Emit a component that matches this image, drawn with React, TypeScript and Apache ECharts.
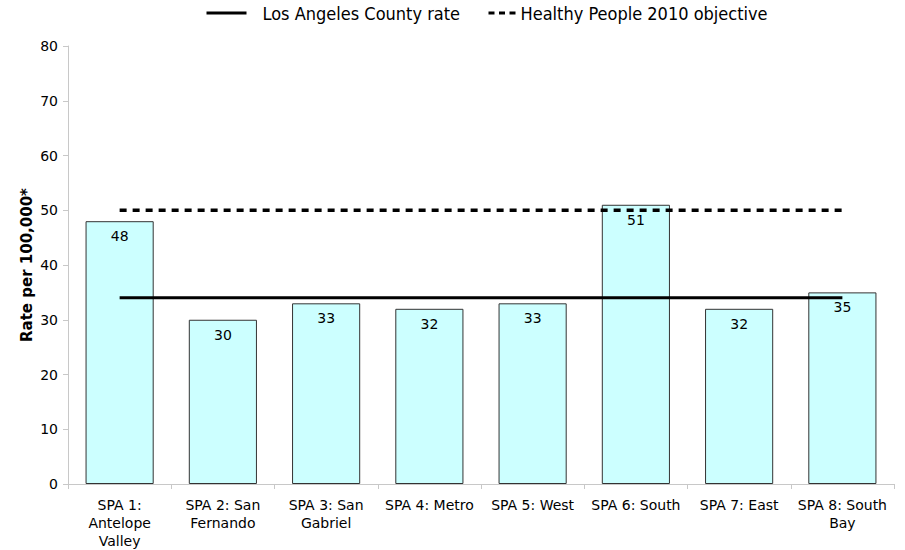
import React, { useEffect, useRef } from "react";
import * as echarts from "echarts";

const categories = [
  "SPA 1:\nAntelope\nValley",
  "SPA 2: San\nFernando",
  "SPA 3: San\nGabriel",
  "SPA 4: Metro",
  "SPA 5: West",
  "SPA 6: South",
  "SPA 7: East",
  "SPA 8: South\nBay",
];
const rates = [48, 30, 33, 32, 33, 51, 32, 35];
const countyRate = [34, 34, 34, 34, 34, 34, 34, 34];
const objective = [50, 50, 50, 50, 50, 50, 50, 50];
const yTicks = { min: 0, max: 80, interval: 10 };

const FONT = "DejaVu Sans";
const LEGEND_FONT = "DejaVu Sans Condensed, DejaVu Sans";

export default function App() {
  const ref = useRef<HTMLDivElement>(null);
  useEffect(() => {
    if (!ref.current) return;
    const chart = echarts.init(ref.current, null, { renderer: "svg" });
    chart.setOption({
      animation: false,
      textStyle: { fontFamily: FONT },
      legend: [
        {
          left: 200,
          top: -1,
          itemWidth: 40,
          itemHeight: 18,
          textStyle: { fontFamily: LEGEND_FONT, fontSize: 18, color: "#000", padding: [0, 0, 0, 11] },
          itemStyle: { opacity: 0 },
          lineStyle: { width: 3, type: "solid", color: "#000" },
          data: [{ name: "Los Angeles County rate" }],
        },
        {
          left: 482,
          top: -1,
          itemWidth: 27,
          itemHeight: 18,
          textStyle: { fontFamily: LEGEND_FONT, fontSize: 18, color: "#000" },
          itemStyle: { opacity: 0 },
          lineStyle: { width: 3, type: [6, 4.5], color: "#000" },
          data: [{ name: "Healthy People 2010 objective" }],
        },
      ],
      grid: { left: 68, right: 11, top: 46, bottom: 65, containLabel: false },
      xAxis: {
        type: "category",
        data: categories,
        axisLine: { lineStyle: { color: "#c8c8c8" } },
        axisTick: { show: true, alignWithLabel: false, length: 5, lineStyle: { color: "#c8c8c8" } },
        axisLabel: { color: "#000", fontSize: 14, fontFamily: FONT, lineHeight: 18, margin: 12, interval: 0 },
      },
      yAxis: {
        type: "value",
        min: yTicks.min,
        max: yTicks.max,
        interval: yTicks.interval,
        name: "Rate per 100,000*",
        nameLocation: "middle",
        nameGap: 34,
        nameMoveOverlap: false,
        nameTextStyle: { fontWeight: "bold", fontSize: 15, color: "#000", fontFamily: FONT },
        axisLine: { show: true, lineStyle: { color: "#c8c8c8" } },
        axisTick: { show: true, length: 5, lineStyle: { color: "#c8c8c8" } },
        axisLabel: { color: "#000", fontSize: 14, margin: 10 },
        splitLine: { show: false },
      },
      series: [
        {
          type: "bar",
          data: rates,
          barWidth: "66%",
          itemStyle: { color: "#ccffff", borderColor: "#333", borderWidth: 1 },
          label: { show: true, position: "insideTop", color: "#000", fontSize: 14, distance: 8 },
          z: 1,
        },
        {
          name: "Los Angeles County rate",
          type: "line",
          data: countyRate,
          symbol: "none",
          lineStyle: { color: "#000", width: 3, type: "solid" },
          itemStyle: { color: "#000" },
          z: 3,
        },
        {
          name: "Healthy People 2010 objective",
          type: "line",
          data: objective,
          symbol: "none",
          lineStyle: { color: "#000", width: 3.5, type: [7, 6] },
          itemStyle: { color: "#000" },
          z: 3,
        },
      ],
    });
    return () => chart.dispose();
  }, []);
  return <div ref={ref} style={{ width: 905, height: 550, position: "absolute", left: 0, top: 0 }} />;
}
